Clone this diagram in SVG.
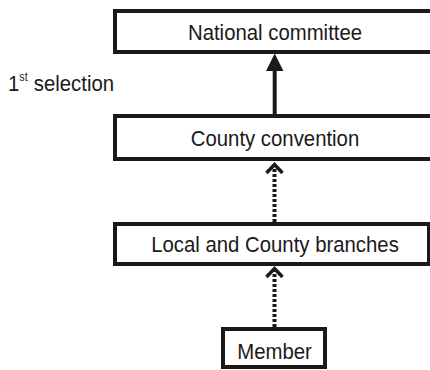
<svg xmlns="http://www.w3.org/2000/svg" width="430" height="370" viewBox="0 0 430 370">
<defs>
<style>
.box{fill:#fff;stroke:#1a1a1a;stroke-width:4}
.t{font-family:"Liberation Sans",Arial,sans-serif;font-size:23px;fill:#1a1a1a;text-anchor:middle}
.solid{stroke:#1a1a1a;stroke-width:4;fill:none}
.dot{stroke:#1a1a1a;stroke-width:4;fill:none;stroke-dasharray:3 2}
.chev{stroke:#1a1a1a;stroke-width:3.5;fill:none}
</style>
</defs>
<rect width="430" height="370" fill="#fff"/>
<g id="national">
<rect class="box" x="115" y="11" width="322" height="41"/>
<text class="t" transform="translate(275,40) scale(0.885,1)">National committee</text>
</g>
<g id="county">
<rect class="box" x="115" y="116" width="322" height="43"/>
<text class="t" transform="translate(275,145.5) scale(0.885,1)">County convention</text>
</g>
<g id="branches">
<rect class="box" x="115" y="224" width="314" height="40"/>
<text class="t" transform="translate(275,251.5) scale(0.885,1)">Local and County branches</text>
</g>
<g id="member">
<rect class="box" x="223" y="329" width="102" height="38"/>
<text class="t" transform="translate(274.5,359) scale(0.885,1)">Member</text>
</g>
<g id="label">
<text font-family="'Liberation Sans',Arial,sans-serif" font-size="23" fill="#1a1a1a" transform="translate(8,91) scale(0.885,1)">1<tspan font-size="12" dy="-10">st</tspan><tspan dy="10" dx="7">selection</tspan></text>
</g>
<g id="connectors">
<line class="solid" x1="274.7" y1="114" x2="274.7" y2="68"/>
<polygon points="274.7,53.5 266,71 283.4,71" fill="#1a1a1a"/>
<line class="dot" x1="274.5" y1="222" x2="274.5" y2="165"/>
<polyline class="chev" points="266.5,173 274.5,164.5 282.5,173"/>
<line class="dot" x1="274.5" y1="327" x2="274.5" y2="270"/>
<polyline class="chev" points="266.5,277 274.5,268.5 282.5,277"/>
</g>
</svg>
